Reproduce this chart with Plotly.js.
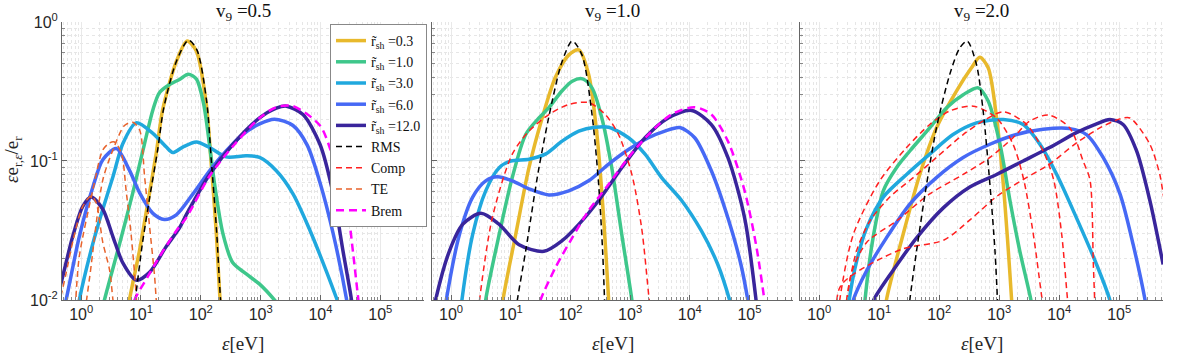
<!DOCTYPE html>
<html>
<head>
<meta charset="utf-8">
<script src="https://cdn.plot.ly/plotly-3.0.1.min.js"></script>
<style>
  body { margin: 0; background: #fff; }
  #spec { width: 1178px; height: 360px; }
</style>
</head>
<body>
<div id="spec"></div>
<script>
// tick labels
var ticksE = [1, 10, 100, 1e3, 1e4, 1e5];
var ticksELabels = ["10<sup>0</sup>", "10<sup>1</sup>", "10<sup>2</sup>", "10<sup>3</sup>", "10<sup>4</sup>", "10<sup>5</sup>"];
var ticksV = [0.01, 0.1, 1];
var ticksVLabels = ["10<sup>-2</sup>", "10<sup>-1</sup>", "10<sup>0</sup>"];

var panelTitles = ["v<sub>9</sub> =0.5", "v<sub>9</sub> =1.0", "v<sub>9</sub> =2.0"];
var rshNames = ["0.3", "1.0", "3.0", "6.0", "12.0"];

// ---- v9 = 0.5 ----
var a_e03 = [5.3, 6.4, 9.5, 13, 18, 23, 39, 59, 84, 123, 148, 180, 210, 234];
var a_v03 = [0.006, 0.01, 0.023, 0.05, 0.114, 0.233, 0.52, 0.73, 0.62, 0.26, 0.1, 0.032, 0.01, 0.006];
var a_e10 = [2.1, 2.45, 4.4, 7.3, 11.5, 15.8, 20.3, 30, 44, 62, 84, 111, 140, 170, 234, 340, 575, 960, 1700, 2350];
var a_v10 = [0.0075, 0.01, 0.0255, 0.059, 0.134, 0.233, 0.31, 0.355, 0.386, 0.42, 0.39, 0.26, 0.13, 0.068, 0.030, 0.0186, 0.0154, 0.013, 0.01, 0.0083];
var a_e30 = [0.8, 0.93, 1.57, 2.3, 3.4, 5.0, 8.3, 15.8, 26, 34, 50, 84, 140, 265, 575, 960, 1830, 3470, 6600, 12600, 19000, 24000];
var a_v30 = [0.007, 0.01, 0.0255, 0.045, 0.077, 0.134, 0.188, 0.158, 0.127, 0.115, 0.126, 0.137, 0.125, 0.107, 0.109, 0.106, 0.085, 0.058, 0.032, 0.016, 0.01, 0.0076];
var a_e60 = [0.43, 0.56, 0.93, 1.57, 2.3, 3.86, 6.4, 9.5, 15.8, 24.6, 39, 74, 140, 265, 500, 960, 1700, 3470, 6000, 9800, 16300, 27400, 32000];
var a_v60 = [0.0063, 0.01, 0.0285, 0.065, 0.102, 0.123, 0.086, 0.059, 0.042, 0.038, 0.041, 0.058, 0.085, 0.118, 0.155, 0.185, 0.20, 0.18, 0.13, 0.07, 0.030, 0.01, 0.0065];
var a_e120 = [0.4, 0.46, 0.72, 1.06, 1.47, 2.3, 3.4, 5.0, 8.3, 13.9, 26, 44, 57, 140, 345, 960, 1830, 2700, 5100, 9800, 16300, 24000, 33000, 38000];
var a_v120 = [0.011, 0.0132, 0.0285, 0.047, 0.055, 0.045, 0.0285, 0.0184, 0.0139, 0.0158, 0.024, 0.033, 0.041, 0.080, 0.132, 0.204, 0.24, 0.248, 0.216, 0.132, 0.058, 0.022, 0.01, 0.006];
var a_eRms = [6.8, 8.0, 10.5, 14, 19, 24, 39, 62, 86, 125, 150, 183, 214, 240];
var a_vRms = [0.006, 0.01, 0.025, 0.055, 0.12, 0.24, 0.52, 0.74, 0.63, 0.27, 0.1, 0.032, 0.01, 0.006];
var a_eBrem = [7.0, 7.8, 13, 20.4, 40, 57, 140, 345, 960, 1830, 3470, 9800, 16300, 27400, 35000, 43000, 50000];
var a_vBrem = [0.008, 0.01, 0.0147, 0.0205, 0.032, 0.039, 0.078, 0.128, 0.204, 0.244, 0.248, 0.18, 0.105, 0.049, 0.022, 0.01, 0.006];
var a_eTe1 = [0.42, 0.55, 0.75, 1.06, 1.47, 1.78, 2.3, 2.98, 3.4, 3.8];
var a_vTe1 = [0.009, 0.015, 0.028, 0.047, 0.056, 0.05, 0.026, 0.0165, 0.01, 0.0065];
var a_eTe2 = [0.82, 0.93, 1.57, 2.3, 3.0, 3.6, 4.7, 5.7, 6.9, 8.3, 9.0];
var a_vTe2 = [0.0105, 0.0205, 0.062, 0.12, 0.135, 0.137, 0.114, 0.059, 0.0285, 0.011, 0.006];
var a_eTe3 = [1.1, 1.4, 2.3, 3.4, 5.3, 7.3, 9.5, 11.5, 13.9, 16.9, 18, 20];
var a_vTe3 = [0.007, 0.015, 0.073, 0.12, 0.18, 0.19, 0.167, 0.077, 0.034, 0.0147, 0.01, 0.006];

// ---- v9 = 1.0 ----
var b_e03 = [6.5, 7.4, 12.1, 20.2, 33.6, 56, 94, 138, 202, 278, 360, 437, 470];
var b_v03 = [0.006, 0.01, 0.0296, 0.0895, 0.204, 0.40, 0.58, 0.63, 0.42, 0.155, 0.039, 0.01, 0.006];
var b_e10 = [3.4, 3.8, 6.4, 10.6, 17.8, 29.7, 43.5, 72.5, 107, 160, 230, 336, 493, 725, 1070, 1200];
var b_v10 = [0.006, 0.01, 0.0296, 0.076, 0.155, 0.204, 0.242, 0.32, 0.375, 0.39, 0.336, 0.204, 0.0895, 0.0296, 0.01, 0.0065];
var b_e30 = [1.35, 1.52, 2.3, 3.8, 6.4, 10, 20.2, 38, 72.5, 138, 261, 437, 940, 1780, 3370, 7300, 15600, 29500, 46500, 55000];
var b_v30 = [0.006, 0.01, 0.0296, 0.061, 0.0895, 0.1, 0.103, 0.112, 0.139, 0.164, 0.175, 0.175, 0.147, 0.112, 0.076, 0.052, 0.0315, 0.018, 0.01, 0.0075];
var b_e60 = [0.7, 0.83, 1.38, 2.3, 3.8, 6.0, 10.6, 20.2, 43.5, 94, 202, 437, 940, 2030, 3830, 6800, 12100, 23000, 43500, 72000, 94000, 110000];
var b_v60 = [0.006, 0.01, 0.0296, 0.055, 0.072, 0.077, 0.072, 0.063, 0.057, 0.061, 0.072, 0.095, 0.121, 0.147, 0.164, 0.174, 0.147, 0.085, 0.039, 0.018, 0.01, 0.0065];
var b_e120 = [0.5, 0.55, 0.94, 1.56, 3.16, 6.4, 13.8, 36, 72.5, 138, 297, 725, 1780, 4350, 10700, 23000, 43500, 83000, 129000, 145000];
var b_v120 = [0.008, 0.01, 0.0226, 0.035, 0.042, 0.035, 0.025, 0.0224, 0.0267, 0.035, 0.052, 0.0895, 0.147, 0.204, 0.231, 0.183, 0.106, 0.039, 0.01, 0.006];
var b_eRms = [11, 12.9, 17.8, 29.7, 49.5, 72.5, 107, 156, 230, 297, 346, 373, 390];
var b_vRms = [0.006, 0.01, 0.0226, 0.0895, 0.27, 0.52, 0.73, 0.58, 0.216, 0.068, 0.0226, 0.01, 0.006];
var b_eComp = [2.7, 3.0, 4.9, 10.6, 20.2, 43.5, 94, 202, 383, 640, 1070, 1560, 2090, 2400];
var b_vComp = [0.006, 0.01, 0.039, 0.112, 0.164, 0.216, 0.255, 0.263, 0.216, 0.155, 0.080, 0.033, 0.01, 0.006];
var b_eBrem = [28, 31.6, 56, 107, 202, 437, 940, 2030, 4900, 12100, 23000, 43500, 83000, 129000, 178000, 200000];
var b_vBrem = [0.008, 0.01, 0.0171, 0.028, 0.044, 0.068, 0.106, 0.155, 0.216, 0.244, 0.216, 0.139, 0.061, 0.025, 0.01, 0.0065];

// ---- v9 = 2.0 ----
var c_e03 = [11.5, 13.2, 25, 47.5, 90, 195, 345, 475, 655, 905, 1170, 1420, 1610, 1700];
var c_v03 = [0.006, 0.01, 0.0296, 0.080, 0.173, 0.32, 0.468, 0.557, 0.468, 0.204, 0.068, 0.0226, 0.01, 0.0065];
var c_e10 = [5.3, 5.8, 7.9, 11.7, 19.4, 32.4, 69.5, 133, 251, 447, 655, 1030, 1510, 2200, 3380, 3800];
var c_v10 = [0.006, 0.01, 0.028, 0.061, 0.0895, 0.118, 0.173, 0.242, 0.30, 0.336, 0.27, 0.132, 0.052, 0.0226, 0.01, 0.0075];
var c_e30 = [2.8, 3.16, 4.2, 6.2, 11.7, 28.6, 69.5, 170, 418, 1170, 2510, 4770, 9100, 19400, 42000, 69800, 80000];
var c_v30 = [0.006, 0.01, 0.019, 0.033, 0.055, 0.080, 0.112, 0.155, 0.188, 0.199, 0.183, 0.132, 0.080, 0.039, 0.018, 0.01, 0.0075];
var c_e60 = [3.3, 3.7, 6.2, 13.2, 32.4, 90, 251, 700, 1940, 5400, 15000, 28500, 54000, 103000, 171000, 270000, 300000];
var c_v60 = [0.008, 0.01, 0.0163, 0.028, 0.049, 0.076, 0.106, 0.132, 0.155, 0.169, 0.171, 0.155, 0.106, 0.058, 0.025, 0.01, 0.0075];
var c_e120 = [7, 8.1, 17, 42, 117, 324, 905, 2510, 6920, 19400, 42000, 69800, 116000, 195000, 324000, 540000];
var c_v120 = [0.008, 0.01, 0.0163, 0.028, 0.046, 0.065, 0.080, 0.1, 0.125, 0.16, 0.185, 0.199, 0.183, 0.118, 0.052, 0.018];
var c_eRms = [29, 32.4, 42, 61.6, 90, 150, 220, 293, 418, 540, 700, 850, 935, 980];
var c_vRms = [0.006, 0.01, 0.0226, 0.068, 0.173, 0.42, 0.65, 0.73, 0.494, 0.229, 0.068, 0.0226, 0.01, 0.006];
var c_eComp1 = [2.0, 2.2, 3.7, 10.2, 28.6, 69.5, 150, 370, 905, 1700, 2570, 3700, 5200, 6000];
var c_vComp1 = [0.006, 0.01, 0.0296, 0.072, 0.125, 0.183, 0.229, 0.248, 0.204, 0.132, 0.073, 0.0298, 0.01, 0.0065];
var c_eComp2 = [2.5, 2.86, 4.2, 7, 15, 37, 90, 251, 540, 1170, 2870, 5400, 8100, 11000, 13800, 15500];
var c_vComp2 = [0.006, 0.01, 0.0226, 0.037, 0.055, 0.076, 0.106, 0.155, 0.194, 0.226, 0.183, 0.118, 0.073, 0.0298, 0.01, 0.0065];
var c_eComp3 = [2.6, 2.9, 3.5, 6.2, 19.4, 69.5, 251, 700, 1700, 3240, 6600, 15000, 25000, 32600, 37000, 39000, 41000];
var c_vComp3 = [0.006, 0.01, 0.016, 0.026, 0.037, 0.058, 0.080, 0.106, 0.147, 0.194, 0.214, 0.173, 0.1, 0.073, 0.0186, 0.01, 0.006];
var c_eComp4 = [2.0, 2.27, 22.7, 120, 333, 930, 2580, 6920, 19400, 50000, 100000, 151000, 324000, 475000, 540000, 600000];
var c_vComp4 = [0.006, 0.0126, 0.023, 0.027, 0.038, 0.056, 0.074, 0.095, 0.135, 0.175, 0.2, 0.204, 0.132, 0.080, 0.058, 0.045];

var rshColors = ["#e8b92c", "#3ec78b", "#20a8de", "#4669f5", "#39259b"];

function line(x, y, n, color, width, dash, name, show, rank) {
  return {
    x: x, y: y, xaxis: "x" + (n > 1 ? n : ""), yaxis: "y" + (n > 1 ? n : ""),
    mode: "lines", type: "scatter",
    line: { color: color, width: width, dash: dash, shape: "spline", smoothing: 0.8 },
    name: name, showlegend: show, legendrank: rank, hoverinfo: "skip"
  };
}

var solids = [
  [a_e03, a_v03, b_e03, b_v03, c_e03, c_v03],
  [a_e10, a_v10, b_e10, b_v10, c_e10, c_v10],
  [a_e30, a_v30, b_e30, b_v30, c_e30, c_v30],
  [a_e60, a_v60, b_e60, b_v60, c_e60, c_v60],
  [a_e120, a_v120, b_e120, b_v120, c_e120, c_v120]
];

var data = [];
for (var p = 0; p < 3; p++) {
  for (var i = 0; i < 5; i++) {
    var s = solids[i];
    data.push(line(s[2 * p], s[2 * p + 1], p + 1, rshColors[i], 3.5, "solid",
      "r\u0303<sub>sh</sub> =" + rshNames[i], p === 0, i + 1));
  }
}

var thin = "6px,4px";
// dashed components
data.push(line(a_eTe1, a_vTe1, 1, "#e8632c", 1.5, thin, "TE", true, 8));
data.push(line(a_eTe2, a_vTe2, 1, "#e8632c", 1.5, thin, "TE", false, 8));
data.push(line(a_eTe3, a_vTe3, 1, "#e8632c", 1.5, thin, "TE", false, 8));
data.push(line(a_eRms, a_vRms, 1, "#000000", 1.5, thin, "RMS", true, 6));
data.push(line(a_eBrem, a_vBrem, 1, "#ff00ff", 2.5, "8px,5px", "Brem", true, 9));

data.push(line(b_eComp, b_vComp, 2, "#ff2020", 1.5, thin, "Comp", true, 7));
data.push(line(b_eRms, b_vRms, 2, "#000000", 1.5, thin, "RMS", false, 6));
data.push(line(b_eBrem, b_vBrem, 2, "#ff00ff", 2.5, "8px,5px", "Brem", false, 9));

data.push(line(c_eComp1, c_vComp1, 3, "#ff2020", 1.5, thin, "Comp", false, 7));
data.push(line(c_eComp2, c_vComp2, 3, "#ff2020", 1.5, thin, "Comp", false, 7));
data.push(line(c_eComp3, c_vComp3, 3, "#ff2020", 1.5, thin, "Comp", false, 7));
data.push(line(c_eComp4, c_vComp4, 3, "#ff2020", 1.5, thin, "Comp", false, 7));
data.push(line(c_eRms, c_vRms, 3, "#000000", 1.5, thin, "RMS", false, 6));

var tickFont = { family: "Liberation Sans", size: 16, color: "#262626" };
var serif = "Liberation Serif";

function xAxis(dom, anchor) {
  return {
    domain: dom, anchor: anchor, type: "log", range: [-0.32, 5.73],
    tickmode: "array", tickvals: ticksE, ticktext: ticksELabels, tickfont: tickFont,
    ticks: "inside", ticklen: 5, tickcolor: "#666",
    showline: true, linecolor: "#666", linewidth: 1,
    showgrid: true, gridcolor: "#e9e9e9", zeroline: false,
    minor: { tickmode: "linear", dtick: "D1", ticks: "inside", ticklen: 3, tickcolor: "#888",
             showgrid: true, gridcolor: "#e6e6e6", griddash: "dot" }
  };
}
function yAxis(anchor, labels) {
  return {
    domain: [0.1667, 0.9389], anchor: anchor, type: "log", range: [-2, 0],
    tickmode: "array", tickvals: ticksV, ticktext: ticksVLabels, tickfont: tickFont,
    showticklabels: labels,
    ticks: "inside", ticklen: 5, tickcolor: "#666",
    showline: true, linecolor: "#666", linewidth: 1,
    showgrid: true, gridcolor: "#e9e9e9", zeroline: false,
    minor: { tickmode: "linear", dtick: "D1", ticks: "inside", ticklen: 3, tickcolor: "#888",
             showgrid: true, gridcolor: "#e6e6e6", griddash: "dot" }
  };
}

var centers = [(62 + 424) / 2 / 1178, (432 + 793) / 2 / 1178, (800 + 1163) / 2 / 1178];
var annotations = [];
for (var k = 0; k < 3; k++) {
  annotations.push({ text: panelTitles[k], x: centers[k], y: 1 - 12 / 360, xref: "paper", yref: "paper",
    xanchor: "center", yanchor: "middle", showarrow: false, font: { family: serif, size: 19, color: "#111" } });
  annotations.push({ text: "<i>ε</i>[eV]", x: centers[k], y: 1 - 343 / 360, xref: "paper", yref: "paper",
    xanchor: "center", yanchor: "middle", showarrow: false, font: { family: serif, size: 19, color: "#262626" } });
}
annotations.push({ text: "<i>ε</i>e<sub>r,<i>ε</i></sub>/e<sub>r</sub>", x: 13 / 1178, y: 1 - 160 / 360,
  xref: "paper", yref: "paper", xanchor: "center", yanchor: "middle", textangle: -90, showarrow: false,
  font: { family: serif, size: 19, color: "#262626" } });

var layout = {
  width: 1178, height: 360,
  margin: { l: 0, r: 0, t: 0, b: 0 },
  paper_bgcolor: "#ffffff", plot_bgcolor: "#ffffff",
  xaxis: xAxis([62 / 1178, 424 / 1178], "y"),
  xaxis2: xAxis([432 / 1178, 793 / 1178], "y2"),
  xaxis3: xAxis([800 / 1178, 1163 / 1178], "y3"),
  yaxis: yAxis("x", true),
  yaxis2: yAxis("x2", false),
  yaxis3: yAxis("x3", false),
  legend: {
    x: 330 / 1178, y: 1 - 24 / 360, xanchor: "left", yanchor: "top",
    bgcolor: "#ffffff", bordercolor: "#888", borderwidth: 1,
    font: { family: serif, size: 14, color: "#111" },
    itemwidth: 30, tracegroupgap: 0
  },
  annotations: annotations,
  showlegend: true
};

Plotly.newPlot("spec", data, layout, { staticPlot: true });
</script>
</body>
</html>
